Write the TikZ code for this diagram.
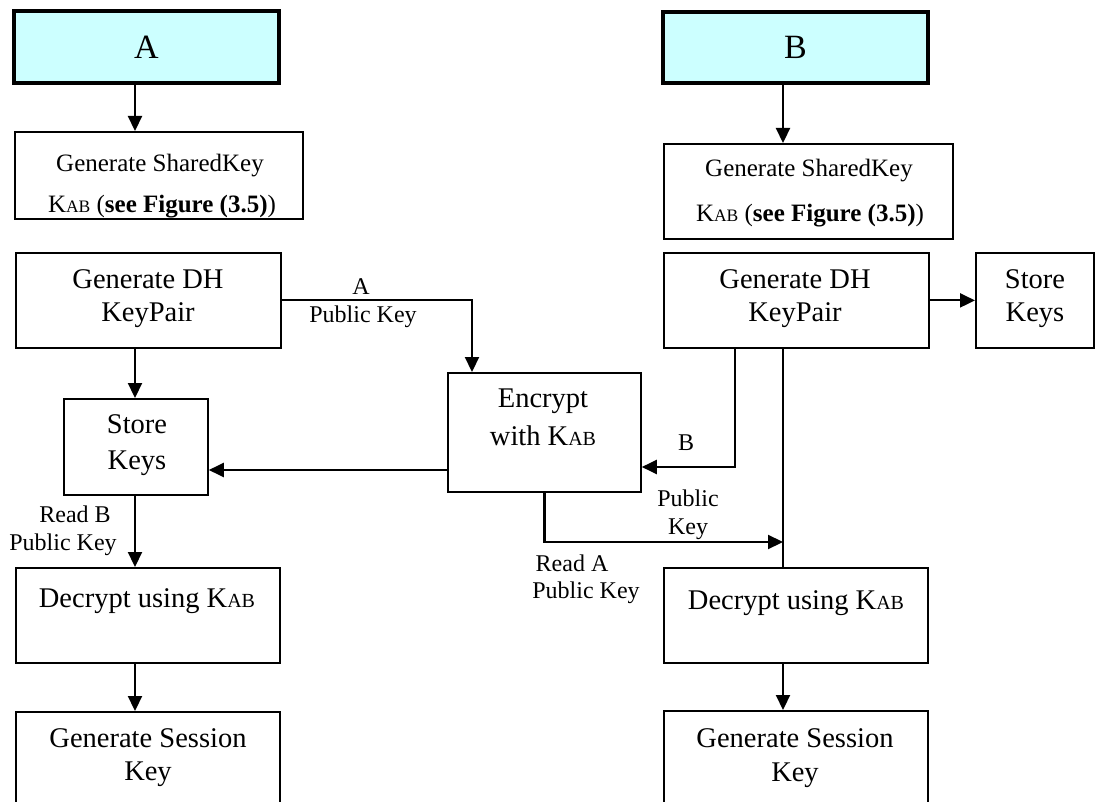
\documentclass[tikz,border=0pt]{standalone}
\usepackage{fontspec}
\setmainfont{Liberation Serif}
\usetikzlibrary{arrows.meta}

\definecolor{partyfill}{HTML}{CCFFFF}
% K with a reduced "AB" written on the baseline
\newcommand\Kab[1]{K{\fontsize{#1}{#1}\selectfont AB}}

\begin{document}
\begin{tikzpicture}[x=1pt,y=-1pt,
  >={Triangle[length=15pt,width=14pt]},
  party/.style={draw, line width=4.5pt, fill=partyfill, inner sep=0pt,
                font=\fontsize{34}{40}\selectfont},
  box/.style={draw, line width=1.8pt, inner sep=0pt, anchor=north west},
  txt/.style={anchor=base, inner sep=0pt, font=\fontsize{28.5}{33}\selectfont},
  small/.style={anchor=base, inner sep=0pt, font=\fontsize{25}{30}\selectfont},
  lbl/.style={anchor=base, inner sep=0pt, font=\fontsize{24}{28}\selectfont},
  link/.style={line width=2.2pt}]
\useasboundingbox (0,0) rectangle (1095,802);
\clip (0,0) rectangle (1095,802);

% columns used by the vertical connectors
\coordinate (colA) at (135,0);
\coordinate (colB) at (783,0);
\coordinate (aPK) at (472,0);
\coordinate (bPK) at (735,467);
\coordinate (rdA) at (0,542);
\coordinate (toStore) at (0,470);

% parties
\node[party, minimum width=265pt, minimum height=72pt] (A) at (146.5,47) {A};
\node[party, minimum width=265pt, minimum height=71pt] (B) at (795.5,47.5) {B};

% boxes
\node[box, minimum width=288pt, minimum height=87pt] (sharedA) at (14,131) {};
\node[box, minimum width=289pt, minimum height=95pt] (sharedB) at (663,143) {};
\node[box, minimum width=265pt, minimum height=95pt] (dhA) at (15,252) {};
\node[box, minimum width=265pt, minimum height=95pt] (dhB) at (663,252) {};
\node[box, minimum width=118pt, minimum height=95pt] (storeB) at (975,252) {};
\node[box, minimum width=193pt, minimum height=119pt] (enc) at (447,372) {};
\node[box, minimum width=144pt, minimum height=96pt] (storeA) at (63,398) {};
\node[box, minimum width=264pt, minimum height=95pt] (decA) at (15,567) {};
\node[box, minimum width=264pt, minimum height=95pt] (decB) at (663,567) {};
\node[box, minimum width=264pt, minimum height=110pt] (sesA) at (15,711) {};
\node[box, minimum width=264pt, minimum height=110pt] (sesB) at (663,710) {};

% box texts
\node[small] (sharedA1) at (160,172) {Generate SharedKey};
\node[small] (sharedA2) at (162,213) {\Kab{17.5} (\textbf{see Figure (3.5)})};
\node[small] (sharedB1) at (809,177) {Generate SharedKey};
\node[small] (sharedB2) at (810,222) {\Kab{17.5} (\textbf{see Figure (3.5)})};
\node[txt] (dhA1) at (148,289) {Generate DH};
\node[txt] (dhA2) at (148,322) {KeyPair};
\node[txt] (dhB1) at (795,289) {Generate DH};
\node[txt] (dhB2) at (795,322) {KeyPair};
\node[txt] (storeB1) at (1035,289) {Store};
\node[txt] (storeB2) at (1035,322) {Keys};
\node[txt] (enc1) at (543,407) {Encrypt};
\node[txt] (enc2) at (543,445) {with \Kab{20}};
\node[txt] (storeA1) at (137,433) {Store};
\node[txt] (storeA2) at (137,469) {Keys};
\node[txt] (decA1) at (147,607) {Decrypt using \Kab{20}};
\node[txt] (decB1) at (796,609) {Decrypt using \Kab{20}};
\node[txt] (sesA1) at (148,747) {Generate Session};
\node[txt] (sesA2) at (148,780) {Key};
\node[txt] (sesB1) at (795,747) {Generate Session};
\node[txt] (sesB2) at (795,781) {Key};

% connectors
\draw[link,->] (A.south -| colA) -- (sharedA.north -| colA);
\draw[link,->] (B.south -| colB) -- (sharedB.north -| colB);
\draw[link,->] (dhA.south -| colA) -- (storeA.north -| colA);
\draw[link,->] (storeA.south -| colA) -- (decA.north -| colA);
\draw[link,->] (decA.south -| colA) -- (sesA.north -| colA);
\draw[link,->] (decB.south -| colB) -- (sesB.north -| colB);
\draw[link,->] (dhB.east) -- (dhB.east -| storeB.west);
\draw[link,->] (dhA.east) -| (enc.north -| aPK);
\draw[link,->] (dhB.south -| bPK) |- (enc.east |- bPK);
\draw[link] (dhB.south -| colB) -- (decB.north -| colB);
\draw[link,->] (enc.south) |- (colB |- rdA);
\draw[link,->] (enc.west |- toStore) -- (storeA.east |- toStore);

% connector labels
\node[lbl] (la1) at (361,295) {A};
\node[lbl] (la2) at (363,323) {Public Key};
\node[lbl] (lb1) at (686,450) {B};
\node[lbl] (lb2) at (688,506) {Public};
\node[lbl] (lb3) at (688,534) {Key};
\node[lbl] (lra1) at (572,571) {Read A};
\node[lbl] (lra2) at (586,598) {Public Key};
\node[lbl] (lrb1) at (75,522) {Read B};
\node[lbl] (lrb2) at (63,550) {Public Key};
\end{tikzpicture}
\end{document}
